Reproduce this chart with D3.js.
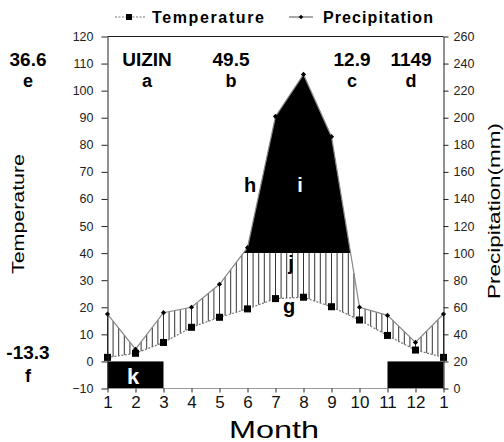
<!DOCTYPE html>
<html>
<head>
<meta charset="utf-8" />
<script src="https://d3js.org/d3.v7.min.js"></script>
<style>
  body { margin: 0; background: #fff; }
  text { font-family: "Liberation Sans", Arial, sans-serif; }
</style>
</head>
<body>
<div id="canvas"></div>
<script>
// データ
var months = [1, 2, 3, 4, 5, 6, 7, 8, 9, 10, 11, 12, 1];
var temperature = [1.5, 3.0, 7.0, 12.6, 16.3, 19.4, 23.2, 23.7, 20.2, 15.3, 9.6, 4.2, 1.5];
var precipitation = [55, 29, 56, 60, 77, 104, 201, 232, 186, 60, 54, 34, 55];
var tempTicks = [-10, 0, 10, 20, 30, 40, 50, 60, 70, 80, 90, 100, 110, 120];
var precTicks = [0, 20, 40, 60, 80, 100, 120, 140, 160, 180, 200, 220, 240, 260];
var frostMonths = [[1, 3], [11, 13]];
var stationInfo = ["UIZIN", "49.5", "12.9", "1149"];
var stationKeys = ["a", "b", "c", "d"];

var svgWidth = 504, svgHeight = 442;
var plotL = 107.5, plotR = 443.5, plotT = 36.5, plotB = 388.5;

var svg = d3.select("#canvas").append("svg")
    .attr("width", svgWidth)
    .attr("height", svgHeight);

var x = d3.scaleLinear().domain([1, 13]).range([plotL, plotR]);
var yT = d3.scaleLinear().domain([-10, 120]).range([plotB, plotT]);
var yP = d3.scaleLinear().domain([0, 260]).range([plotB, plotT]);

var idx = d3.range(months.length);

// 縦線のハッチング（気温と降水量の間）
var hatch = svg.append("g");
d3.range(0, 60.5, 1).forEach(function(k) {
    var m = 1 + k * 0.2;
    var i = Math.min(Math.floor(m - 1), 11);
    var f = (m - 1) - i;
    var t = temperature[i] + (temperature[i + 1] - temperature[i]) * f;
    var p = precipitation[i] + (precipitation[i + 1] - precipitation[i]) * f;
    var pc = Math.min(p, 100);
    if (yP(pc) < yT(t)) {
        hatch.append("line")
            .attr("x1", x(m)).attr("x2", x(m))
            .attr("y1", yT(t)).attr("y2", yP(pc))
            .attr("stroke", "#333").attr("stroke-width", 1);
    }
});

// 100mm以上の黒塗り
svg.append("clipPath").attr("id", "above100")
    .append("rect")
    .attr("x", plotL).attr("y", plotT - 5)
    .attr("width", plotR - plotL).attr("height", yP(100) - plotT + 5);

svg.append("path")
    .datum(idx)
    .attr("clip-path", "url(#above100)")
    .attr("fill", "#000")
    .attr("d", d3.area()
        .x(function(i) { return x(i + 1); })
        .y0(yP(100))
        .y1(function(i) { return yP(precipitation[i]); }));

// 霜の期間
svg.selectAll(".frost")
    .data(frostMonths)
    .enter().append("rect")
    .attr("x", function(d) { return x(d[0]); })
    .attr("width", function(d) { return x(d[1]) - x(d[0]); })
    .attr("y", yT(0))
    .attr("height", yT(-10) - yT(0))
    .attr("fill", "#000");

// 降水量の線
svg.append("path")
    .datum(idx)
    .attr("fill", "none")
    .attr("stroke", "#888")
    .attr("stroke-width", 1.2)
    .attr("d", d3.line()
        .x(function(i) { return x(i + 1); })
        .y(function(i) { return yP(precipitation[i]); }));

// 気温の線
svg.append("path")
    .datum(idx)
    .attr("fill", "none")
    .attr("stroke", "#777")
    .attr("stroke-width", 1.2)
    .attr("stroke-dasharray", "2,1.5")
    .attr("d", d3.line()
        .x(function(i) { return x(i + 1); })
        .y(function(i) { return yT(temperature[i]); }));

// マーカー
svg.selectAll(".tm")
    .data(idx)
    .enter().append("rect")
    .attr("x", function(i) { return x(i + 1) - 3.5; })
    .attr("y", function(i) { return yT(temperature[i]) - 3.5; })
    .attr("width", 7).attr("height", 7)
    .attr("fill", "#000");

svg.selectAll(".pm")
    .data(idx)
    .enter().append("path")
    .attr("transform", function(i) { return "translate(" + x(i + 1) + "," + yP(precipitation[i]) + ")"; })
    .attr("d", "M0,-2.6L2.6,0L0,2.6L-2.6,0Z")
    .attr("fill", "#000");

// 枠と軸
svg.append("line")
    .attr("x1", plotL).attr("x2", plotR).attr("y1", plotT).attr("y2", plotT)
    .attr("stroke", "#222");
svg.append("line")
    .attr("x1", plotL).attr("x2", plotR).attr("y1", plotB).attr("y2", plotB)
    .attr("stroke", "#999");

var axL = svg.append("g")
    .attr("transform", "translate(" + plotL + ",0)")
    .call(d3.axisLeft(yT).tickValues(tempTicks).tickSize(6).tickPadding(8).tickSizeOuter(0));
var axR = svg.append("g")
    .attr("transform", "translate(" + plotR + ",0)")
    .call(d3.axisRight(yP).tickValues(precTicks).tickSize(5).tickPadding(5).tickSizeOuter(0));
var axB = svg.append("g")
    .attr("transform", "translate(0," + plotB + ")")
    .call(d3.axisBottom(x).tickValues(d3.range(1, 14)).tickSize(4).tickPadding(3)
        .tickSizeOuter(0)
        .tickFormat(function(d, i) { return months[i]; }));

[axL, axR].forEach(function(a) {
    a.select(".domain").attr("stroke", "#222");
    a.selectAll(".tick line").attr("stroke", "#222");
    a.selectAll("text").attr("font-family", "DejaVu Sans, sans-serif")
        .attr("font-size", 12.5).attr("fill", "#222");
});
axB.select(".domain").remove();
axB.selectAll(".tick line").attr("stroke", "#222");
axB.selectAll("text").attr("font-family", "DejaVu Sans, sans-serif")
    .attr("font-size", 17).attr("fill", "#111");

// 軸タイトル
svg.append("text")
    .attr("transform", "translate(24," + 214 + ") rotate(-90)")
    .attr("text-anchor", "middle")
    .attr("font-family", "DejaVu Sans, sans-serif")
    .attr("font-size", 16)
    .attr("textLength", 120).attr("lengthAdjust", "spacingAndGlyphs")
    .text("Temperature");
svg.append("text")
    .attr("transform", "translate(500," + 211 + ") rotate(-90)")
    .attr("text-anchor", "middle")
    .attr("font-family", "DejaVu Sans, sans-serif")
    .attr("font-size", 16)
    .attr("textLength", 176).attr("lengthAdjust", "spacingAndGlyphs")
    .text("Precipitation(mm)");
svg.append("text")
    .attr("x", 274).attr("y", 438)
    .attr("text-anchor", "middle")
    .attr("font-family", "DejaVu Sans, sans-serif")
    .attr("font-size", 24)
    .attr("textLength", 90).attr("lengthAdjust", "spacingAndGlyphs")
    .text("Month");

// 凡例
var lg = svg.append("g");
lg.append("line").attr("x1", 115).attr("x2", 145).attr("y1", 17).attr("y2", 17)
    .attr("stroke", "#777").attr("stroke-dasharray", "2,1.5");
lg.append("rect").attr("x", 126).attr("y", 14).attr("width", 6).attr("height", 6).attr("fill", "#000");
lg.append("text").attr("x", 152).attr("y", 23)
    .attr("font-size", 16).attr("font-weight", "bold")
    .attr("textLength", 112).attr("lengthAdjust", "spacing")
    .text("Temperature");
lg.append("line").attr("x1", 289).attr("x2", 313).attr("y1", 17).attr("y2", 17)
    .attr("stroke", "#555");
lg.append("path").attr("transform", "translate(301,17)")
    .attr("d", "M0,-2.3L2.3,0L0,2.3L-2.3,0Z").attr("fill", "#000");
lg.append("text").attr("x", 323).attr("y", 23)
    .attr("font-size", 16).attr("font-weight", "bold")
    .attr("textLength", 110).attr("lengthAdjust", "spacing")
    .text("Precipitation");

// 地点情報
var infoX = [147, 231, 352, 411];
var labels = svg.append("g").attr("font-weight", "bold").attr("text-anchor", "middle");
stationInfo.forEach(function(s, i) {
    labels.append("text").attr("x", infoX[i]).attr("y", 66).attr("font-size", 19).text(s);
    labels.append("text").attr("x", infoX[i]).attr("y", 87).attr("font-size", 18).text(stationKeys[i]);
});
labels.append("text").attr("x", 28).attr("y", 66).attr("font-size", 19).text("36.6");
labels.append("text").attr("x", 28).attr("y", 87).attr("font-size", 18).text("e");
labels.append("text").attr("x", 28).attr("y", 359).attr("font-size", 19).text("-13.3");
labels.append("text").attr("x", 28).attr("y", 382).attr("font-size", 18).text("f");

labels.append("text").attr("x", 250).attr("y", 192).attr("font-size", 20).text("h");
labels.append("text").attr("x", 300).attr("y", 192).attr("font-size", 20).attr("fill", "#fff").text("i");
labels.append("text").attr("x", 291).attr("y", 270).attr("font-size", 20).text("j");
labels.append("text").attr("x", 289).attr("y", 313).attr("font-size", 20).text("g");
labels.append("text").attr("x", 133).attr("y", 384).attr("font-size", 22).attr("fill", "#fff").text("k");
</script>
</body>
</html>
